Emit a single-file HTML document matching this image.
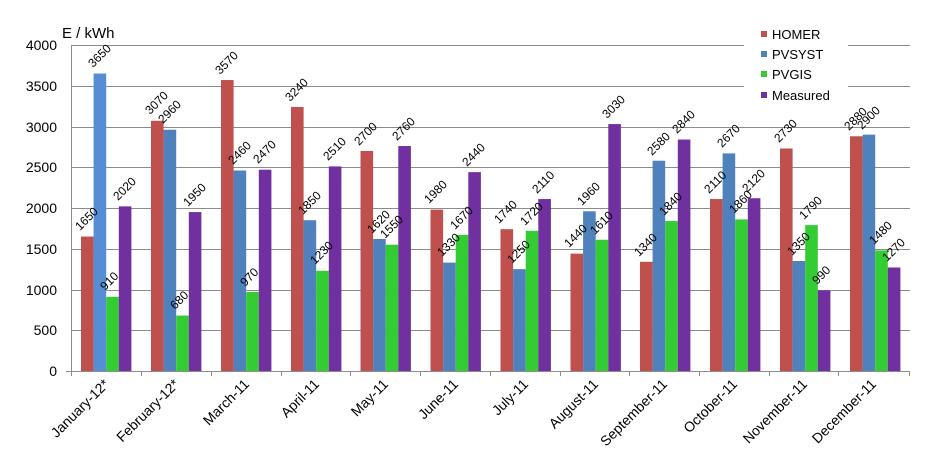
<!DOCTYPE html>
<html><head><meta charset="utf-8"><style>
html,body{margin:0;padding:0;background:#fff;}
svg{display:block;font-family:"Liberation Sans",sans-serif;}
.l{font-size:12px;fill:#000;}
.y{font-size:14px;fill:#000;text-anchor:end;}
.c{font-size:14px;fill:#000;text-anchor:end;}
.r{fill:#C0504D}.b{fill:#4F81BD}.g{fill:#33CC33}.p{fill:#7030A0}
</style></head><body>
<svg width="944" height="465" viewBox="0 0 944 465">
<g stroke="#8c8c8c" stroke-width="1">
<line x1="71" y1="45.5" x2="910" y2="45.5"/>
<line x1="71" y1="86.5" x2="910" y2="86.5"/>
<line x1="71" y1="127.5" x2="910" y2="127.5"/>
<line x1="71" y1="167.5" x2="910" y2="167.5"/>
<line x1="71" y1="208.5" x2="910" y2="208.5"/>
<line x1="71" y1="249.5" x2="910" y2="249.5"/>
<line x1="71" y1="290.5" x2="910" y2="290.5"/>
<line x1="71" y1="330.5" x2="910" y2="330.5"/>
</g>
<text class="y" x="57" y="50">4000</text>
<text class="y" x="57" y="91">3500</text>
<text class="y" x="57" y="132">3000</text>
<text class="y" x="57" y="172">2500</text>
<text class="y" x="57" y="213">2000</text>
<text class="y" x="57" y="254">1500</text>
<text class="y" x="57" y="295">1000</text>
<text class="y" x="57" y="335">500</text>
<text class="y" x="57" y="376">0</text>
<text x="62" y="38" style="font-size:15px">E / kWh</text>

<g transform="translate(0,371) scale(1,-0.0815)">
<g transform="translate(71,0)"><rect class="r" x="10" width="12.6" height="1650"/><rect class="b" x="22.6" width="12.6" height="3650" style="fill:#558ED5"/><rect class="g" x="35.2" width="12.6" height="910"/><rect class="p" x="47.8" width="12.6" height="2020"/></g>
<g transform="translate(141,0)"><rect class="r" x="10" width="12.6" height="3070"/><rect class="b" x="22.6" width="12.6" height="2960"/><rect class="g" x="35.2" width="12.6" height="680"/><rect class="p" x="47.8" width="12.6" height="1950"/></g>
<g transform="translate(211,0)"><rect class="r" x="10" width="12.6" height="3570"/><rect class="b" x="22.6" width="12.6" height="2460"/><rect class="g" x="35.2" width="12.6" height="970"/><rect class="p" x="47.8" width="12.6" height="2470"/></g>
<g transform="translate(281,0)"><rect class="r" x="10" width="12.6" height="3240"/><rect class="b" x="22.6" width="12.6" height="1850"/><rect class="g" x="35.2" width="12.6" height="1230"/><rect class="p" x="47.8" width="12.6" height="2510"/></g>
<g transform="translate(350.5,0)"><rect class="r" x="10" width="12.6" height="2700"/><rect class="b" x="22.6" width="12.6" height="1620"/><rect class="g" x="35.2" width="12.6" height="1550"/><rect class="p" x="47.8" width="12.6" height="2760"/></g>
<g transform="translate(420.5,0)"><rect class="r" x="10" width="12.6" height="1980"/><rect class="b" x="22.6" width="12.6" height="1330"/><rect class="g" x="35.2" width="12.6" height="1670"/><rect class="p" x="47.8" width="12.6" height="2440"/></g>
<g transform="translate(490.5,0)"><rect class="r" x="10" width="12.6" height="1740"/><rect class="b" x="22.6" width="12.6" height="1250"/><rect class="g" x="35.2" width="12.6" height="1720"/><rect class="p" x="47.8" width="12.6" height="2110"/></g>
<g transform="translate(560.5,0)"><rect class="r" x="10" width="12.6" height="1440"/><rect class="b" x="22.6" width="12.6" height="1960"/><rect class="g" x="35.2" width="12.6" height="1610"/><rect class="p" x="47.8" width="12.6" height="3030"/></g>
<g transform="translate(630,0)"><rect class="r" x="10" width="12.6" height="1340"/><rect class="b" x="22.6" width="12.6" height="2580"/><rect class="g" x="35.2" width="12.6" height="1840"/><rect class="p" x="47.8" width="12.6" height="2840"/></g>
<g transform="translate(700,0)"><rect class="r" x="10" width="12.6" height="2110"/><rect class="b" x="22.6" width="12.6" height="2670"/><rect class="g" x="35.2" width="12.6" height="1860"/><rect class="p" x="47.8" width="12.6" height="2120"/></g>
<g transform="translate(770,0)"><rect class="r" x="10" width="12.6" height="2730"/><rect class="b" x="22.6" width="12.6" height="1350"/><rect class="g" x="35.2" width="12.6" height="1790"/><rect class="p" x="47.8" width="12.6" height="990"/></g>
<g transform="translate(840,0)"><rect class="r" x="10" width="12.6" height="2880"/><rect class="b" x="22.6" width="12.6" height="2900"/><rect class="g" x="35.2" width="12.6" height="1480"/><rect class="p" x="47.8" width="12.6" height="1270"/></g>
</g>

<g stroke="#8c8c8c" stroke-width="1">
<line x1="71.5" y1="45" x2="71.5" y2="376"/>
<line x1="66" y1="371.5" x2="910" y2="371.5"/>
<line x1="141.5" y1="371" x2="141.5" y2="376"/><line x1="211.5" y1="371" x2="211.5" y2="376"/><line x1="281.5" y1="371" x2="281.5" y2="376"/><line x1="350.5" y1="371" x2="350.5" y2="376"/><line x1="420.5" y1="371" x2="420.5" y2="376"/><line x1="490.5" y1="371" x2="490.5" y2="376"/><line x1="560.5" y1="371" x2="560.5" y2="376"/><line x1="629.5" y1="371" x2="629.5" y2="376"/><line x1="699.5" y1="371" x2="699.5" y2="376"/><line x1="769.5" y1="371" x2="769.5" y2="376"/><line x1="838.5" y1="371" x2="838.5" y2="376"/><line x1="909.5" y1="371" x2="909.5" y2="376"/>
</g>

<g class="l">
<text transform="translate(80,231) rotate(-45)">1650</text>
<text transform="translate(93,68) rotate(-45)">3650</text>
<text transform="translate(105,291) rotate(-45)">910</text>
<text transform="translate(118,201) rotate(-45)">2020</text>

<text transform="translate(150,115) rotate(-45)">3070</text>
<text transform="translate(163,124) rotate(-45)">2960</text>
<text transform="translate(175,310) rotate(-45)">680</text>
<text transform="translate(188,207) rotate(-45)">1950</text>

<text transform="translate(220,75) rotate(-45)">3570</text>
<text transform="translate(233,165) rotate(-45)">2460</text>
<text transform="translate(245,287) rotate(-45)">970</text>
<text transform="translate(258,164) rotate(-45)">2470</text>

<text transform="translate(290,102) rotate(-45)">3240</text>
<text transform="translate(303,215) rotate(-45)">1850</text>
<text transform="translate(315,265) rotate(-45)">1230</text>
<text transform="translate(328,161) rotate(-45)">2510</text>

<text transform="translate(359,146) rotate(-45)">2700</text>
<text transform="translate(372,234) rotate(-45)">1620</text>
<text transform="translate(385,239) rotate(-45)">1550</text>
<text transform="translate(397,141) rotate(-45)">2760</text>

<text transform="translate(429,204) rotate(-45)">1980</text>
<text transform="translate(442,257) rotate(-45)">1330</text>
<text transform="translate(455,230) rotate(-45)">1670</text>
<text transform="translate(467,167) rotate(-45)">2440</text>

<text transform="translate(499,224) rotate(-45)">1740</text>
<text transform="translate(512,264) rotate(-45)">1250</text>
<text transform="translate(525,226) rotate(-45)">1720</text>
<text transform="translate(537,194) rotate(-45)">2110</text>

<text transform="translate(569,248) rotate(-45)">1440</text>
<text transform="translate(582,206) rotate(-45)">1960</text>
<text transform="translate(595,235) rotate(-45)">1610</text>
<text transform="translate(607,119) rotate(-45)">3030</text>

<text transform="translate(639,257) rotate(-45)">1340</text>
<text transform="translate(652,156) rotate(-45)">2580</text>
<text transform="translate(664,216) rotate(-45)">1840</text>
<text transform="translate(677,134) rotate(-45)">2840</text>

<text transform="translate(709,194) rotate(-45)">2110</text>
<text transform="translate(722,148) rotate(-45)">2670</text>
<text transform="translate(734,214) rotate(-45)">1860</text>
<text transform="translate(747,193) rotate(-45)">2120</text>

<text transform="translate(779,143) rotate(-45)">2730</text>
<text transform="translate(792,256) rotate(-45)">1350</text>
<text transform="translate(804,220) rotate(-45)">1790</text>
<text transform="translate(817,285) rotate(-45)">990</text>

<text transform="translate(849,131) rotate(-45)">2880</text>
<text transform="translate(862,130) rotate(-45)">2900</text>
<text transform="translate(874,245) rotate(-45)">1480</text>
<text transform="translate(887,262) rotate(-45)">1270</text>
</g>

<g class="c">
<text transform="translate(110,385) rotate(-45)">January-12*</text>
<text transform="translate(180,385) rotate(-45)">February-12*</text>
<text transform="translate(250,385) rotate(-45)">March-11</text>
<text transform="translate(320,385) rotate(-45)">April-11</text>
<text transform="translate(389,385) rotate(-45)">May-11</text>
<text transform="translate(459,385) rotate(-45)">June-11</text>
<text transform="translate(529,385) rotate(-45)">July-11</text>
<text transform="translate(599,385) rotate(-45)">August-11</text>
<text transform="translate(668,385) rotate(-45)">September-11</text>
<text transform="translate(738,385) rotate(-45)">October-11</text>
<text transform="translate(808,385) rotate(-45)">November-11</text>
<text transform="translate(877,385) rotate(-45)">December-11</text>
</g>

<rect x="744" y="22" width="104" height="84" fill="#fff"/>
<rect class="r" x="761" y="31" width="6" height="6"/>
<rect class="b" x="761" y="51" width="6" height="6"/>
<rect class="g" x="761" y="71" width="6" height="6"/>
<rect class="p" x="761" y="92" width="6" height="6"/>
<g style="font-size:13px">
<text x="772" y="39">HOMER</text>
<text x="772" y="59">PVSYST</text>
<text x="772" y="79">PVGIS</text>
<text x="772" y="100">Measured</text>
</g>
</svg>
</body></html>
